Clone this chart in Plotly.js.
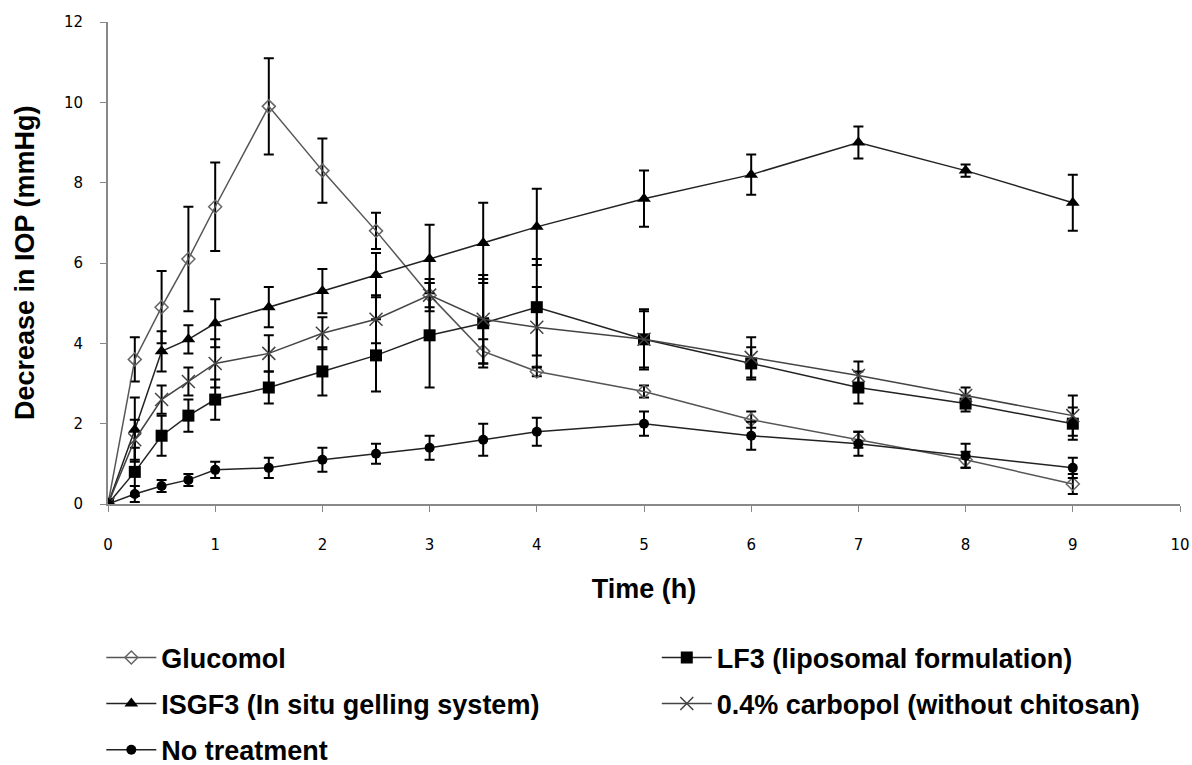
<!DOCTYPE html>
<html>
<head>
<meta charset="utf-8">
<script src="https://cdn.plot.ly/plotly-3.0.1.min.js"></script>
<style>html,body{margin:0;padding:0;background:#fff;}#chart{width:1192px;height:765px;}</style>
</head>
<body>
<div id="chart"></div>
<script>
const time = [0, 0.25, 0.5, 0.75, 1, 1.5, 2, 2.5, 3, 3.5, 4, 5, 6, 7, 8, 9];

const glucomol    = [0, 3.6, 4.9, 6.1, 7.4, 9.9, 8.3, 6.8, 5.2, 3.8, 3.3, 2.8, 2.1, 1.6, 1.1, 0.5];
const glucomolErr = [0, 0.55, 0.9, 1.3, 1.1, 1.2, 0.8, 0.45, 0.3, 0.3, 0.12, 0.15, 0.2, 0.2, 0.2, 0.25];

const lf3    = [0, 0.8, 1.7, 2.2, 2.6, 2.9, 3.3, 3.7, 4.2, 4.5, 4.9, 4.1, 3.5, 2.9, 2.5, 2.0];
const lf3Err = [0, 0.6, 0.5, 0.4, 0.5, 0.4, 0.6, 0.9, 1.3, 1.1, 1.2, 0.75, 0.4, 0.4, 0.2, 0.4];

const isgf3    = [0, 1.85, 3.8, 4.1, 4.5, 4.9, 5.3, 5.7, 6.1, 6.5, 6.9, 7.6, 8.2, 9.0, 8.3, 7.5];
const isgf3Err = [0, 0.8, 0.5, 0.35, 0.6, 0.5, 0.55, 0.55, 0.85, 1.0, 0.95, 0.7, 0.5, 0.4, 0.15, 0.7];

const carbopol    = [0, 1.6, 2.6, 3.05, 3.5, 3.75, 4.25, 4.6, 5.2, 4.6, 4.4, 4.1, 3.65, 3.2, 2.7, 2.2];
const carbopolErr = [0, 0.5, 0.35, 0.35, 0.6, 0.45, 0.4, 0.6, 0.4, 1.1, 1.0, 0.7, 0.5, 0.35, 0.2, 0.5];

const noTreat    = [0, 0.25, 0.45, 0.6, 0.85, 0.9, 1.1, 1.25, 1.4, 1.6, 1.8, 2.0, 1.7, 1.5, 1.2, 0.9];
const noTreatErr = [0, 0.2, 0.15, 0.15, 0.2, 0.25, 0.3, 0.25, 0.3, 0.4, 0.35, 0.3, 0.35, 0.3, 0.3, 0.25];

const names = ["Glucomol", "LF3 (liposomal formulation)", "ISGF3 (In situ gelling system)", "0.4% carbopol (without chitosan)", "No treatment"];
const xTitle = "Time (h)";
const yTitle = "Decrease in IOP (mmHg)";

function tr(name, y, err, marker, lineColor, legendId) {
  return {
    x: time, y: y, name: name, type: 'scatter', mode: 'lines+markers',
    legend: legendId, legendgroup: name,
    line: {color: lineColor, width: 1.5},
    marker: marker,
    error_y: {type: 'data', array: err, visible: true, color: '#000', thickness: 2, width: 5}
  };
}

const data = [
  tr(names[0], glucomol, glucomolErr, {symbol: 'diamond-open', size: 10, color: '#666', line: {width: 1.5, color: '#666'}}, '#555', 'legend'),
  tr(names[1], lf3, lf3Err, {symbol: 'square', size: 12, color: '#000'}, '#222', 'legend2'),
  tr(names[2], isgf3, isgf3Err, {symbol: 'triangle-up', size: 12, color: '#000'}, '#222', 'legend'),
  tr(names[3], carbopol, carbopolErr, {symbol: 'x-thin-open', size: 13, color: '#444', line: {width: 1.5, color: '#444'}}, '#444', 'legend2'),
  tr(names[4], noTreat, noTreatErr, {symbol: 'circle', size: 10, color: '#000'}, '#222', 'legend')
];

const boldFont = "'Liberation Sans', Arial, sans-serif";
const tickFontFam = "'DejaVu Sans', Verdana, sans-serif";

const legendCommon = {
  orientation: 'v', xanchor: 'left', yanchor: 'top', xref: 'container', yref: 'container',
  font: {size: 27, family: boldFont, color: '#000', weight: 'bold'},
  itemwidth: 50, tracegroupgap: 8, traceorder: 'grouped', bgcolor: 'rgba(0,0,0,0)'
};

const layout = {
  width: 1192, height: 765,
  margin: {l: 108, r: 12, t: 22, b: 261, autoexpand: false},
  paper_bgcolor: '#fff', plot_bgcolor: '#fff',
  font: {family: boldFont, color: '#000', size: 16},
  showlegend: true,
  xaxis: {
    range: [0, 10], tickvals: [0,1,2,3,4,5,6,7,8,9,10], showgrid: false, zeroline: false,
    showline: true, linecolor: '#888', linewidth: 2, ticks: 'outside', ticklen: 6, tickcolor: '#888', tickwidth: 1,
    tickfont: {size: 15, family: tickFontFam}, ticklabelstandoff: 20, automargin: true,
    title: {text: '<b>' + xTitle + '</b>', font: {size: 27, family: boldFont}, standoff: 26}
  },
  yaxis: {
    range: [0, 12], tickvals: [0,2,4,6,8,10,12], showgrid: false, zeroline: false,
    showline: true, linecolor: '#888', linewidth: 2, ticks: 'outside', ticklen: 6, tickcolor: '#888', tickwidth: 1,
    tickfont: {size: 15, family: tickFontFam}, ticklabelstandoff: 14, automargin: false
  },
  annotations: [{
    text: '<b>' + yTitle + '</b>', xref: 'paper', yref: 'paper', x: -0.0774, y: 0.5,
    xanchor: 'center', yanchor: 'middle', textangle: -90, showarrow: false,
    font: {size: 27, family: boldFont, color: '#000'}
  }],
  legend: Object.assign({}, legendCommon, {x: 0.085, y: 0.172}),
  legend2: Object.assign({}, legendCommon, {x: 0.551, y: 0.172})
};

Plotly.newPlot('chart', data, layout, {displayModeBar: false, staticPlot: true});
</script>
</body>
</html>
